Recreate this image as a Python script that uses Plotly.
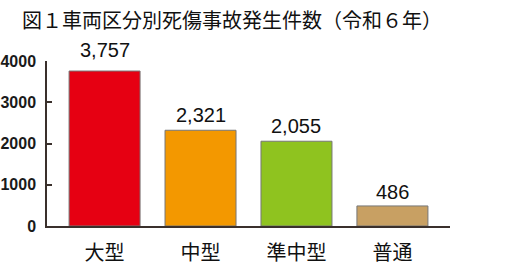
import plotly.graph_objects as go

categories = ["大型", "中型", "準中型", "普通"]
values = [3757, 2321, 2055, 486]
colors = ["#E60012", "#F39800", "#8FC31F", "#C8A063"]
y_ticks = [0, 1000, 2000, 3000, 4000]
title_text = "図１車両区分別死傷事故発生件数（令和６年）"

# label offsets above bar tops (pixels)
label_shift = [21, 15, 15, 14]

fig = go.Figure()
fig.add_trace(go.Bar(
    x=categories, y=values, width=0.74,
    marker=dict(color=colors, line=dict(color="#777777", width=1)),
    hoverinfo="skip",
))

for c, v, s in zip(categories, values, label_shift):
    fig.add_annotation(
        x=c, y=v, text=f"{v:,}", showarrow=False, yanchor="middle", yshift=s,
        font=dict(family="Liberation Sans, Arial", size=20, color="#111111"),
    )

fig.update_layout(
    width=515, height=273,
    margin=dict(l=47, r=65, t=61, b=47, autoexpand=False),
    paper_bgcolor="white", plot_bgcolor="white",
    showlegend=False,
    title=dict(
        text=title_text, xref="container", yref="container", automargin=False,
        x=22 / 515, xanchor="left", y=1 - 21 / 273, yanchor="middle",
        font=dict(family="Noto Sans CJK JP", size=20, color="#111111"),
    ),
    xaxis=dict(
        type="category", range=[-0.6, 3.6], showline=True, linecolor="#3a302c",
        linewidth=2, ticks="", showgrid=False, zeroline=False, automargin=False,
        tickfont=dict(family="Noto Sans CJK JP", size=20, color="#111111"),
        ticklabelstandoff=8,
    ),
    yaxis=dict(
        range=[0, 4000], tickvals=y_ticks, ticktext=[str(t) for t in y_ticks],
        showline=True, linecolor="#3a302c", linewidth=1.5, automargin=False,
        ticks="inside", ticklen=5, tickcolor="#3a302c", tickwidth=1.5,
        showgrid=False, zeroline=False,
        tickfont=dict(family="Liberation Sans, Arial", size=16, color="#1a1a1a", weight="bold"),
        ticklabelstandoff=6,
    ),
)

fig.write_html("out.html")
